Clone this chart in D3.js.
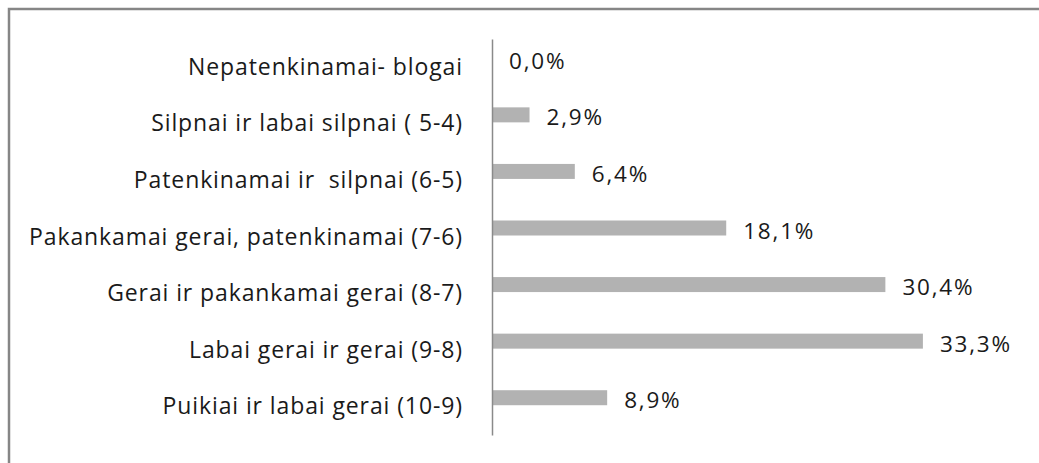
<!DOCTYPE html>
<html><head><meta charset="utf-8">
<script src="https://cdn.jsdelivr.net/npm/d3@7"></script>
<style>html,body{margin:0;padding:0;background:#fff;}svg{display:block;}</style>
</head><body>
<svg id="c" width="1039" height="463"></svg>
<script>
const categories = [
  "Nepatenkinamai- blogai",
  "Silpnai ir labai silpnai ( 5-4)",
  "Patenkinamai ir  silpnai (6-5)",
  "Pakankamai gerai, patenkinamai (7-6)",
  "Gerai ir pakankamai gerai (8-7)",
  "Labai gerai ir gerai (9-8)",
  "Puikiai ir labai gerai (10-9)"
];
const values = [0.0, 2.9, 6.4, 18.1, 30.4, 33.3, 8.9];
const valueLabels = ["0,0%", "2,9%", "6,4%", "18,1%", "30,4%", "33,3%", "8,9%"];

const svg = d3.select("#c");
const font = "'Open Sans', sans-serif";

// chart border (top and left visible)
svg.append("path")
  .attr("d", d3.line()([[9, 463], [9, 9], [1039, 9]]))
  .attr("fill", "none").attr("stroke", "#868686").attr("stroke-width", 2.5);

const x = d3.scaleLinear().domain([0, 35]).range([492, 492 + 35 * 12.94]);
const y = d3.scaleBand().domain(categories).range([39, 435]).padding(0);
const barH = 15, barShift = -9;

svg.selectAll("rect.bar").data(categories).join("rect")
  .attr("class", "bar")
  .attr("x", x(0))
  .attr("y", (d) => y(d) + y.bandwidth() / 2 + barShift - barH / 2)
  .attr("width", (d, i) => x(values[i]) - x(0))
  .attr("height", barH)
  .attr("fill", "#b2b2b2");

// axis
const axis = d3.axisLeft(y).tickSize(0).tickPadding(29);
const g = svg.append("g").attr("transform", `translate(${x(0)},0)`).call(axis);
g.select(".domain").attr("stroke", "#8a8a8a").attr("stroke-width", 1.5);
g.selectAll(".tick text")
  .attr("font-family", font).attr("font-size", 23).attr("fill", "#1a1a1a")
  .attr("letter-spacing", 0.9)
  .attr("dy", 7.5)
  .style("white-space", "pre");

svg.selectAll("text.val").data(categories).join("text")
  .attr("class", "val")
  .attr("x", (d, i) => x(values[i]) + 17)
  .attr("y", (d) => y(d) + y.bandwidth() / 2 + 1.5)
  .attr("font-family", font).attr("font-size", 22.5).attr("fill", "#1a1a1a")
  .attr("letter-spacing", 1.8)
  .text((d, i) => valueLabels[i]);
</script>
</body></html>
